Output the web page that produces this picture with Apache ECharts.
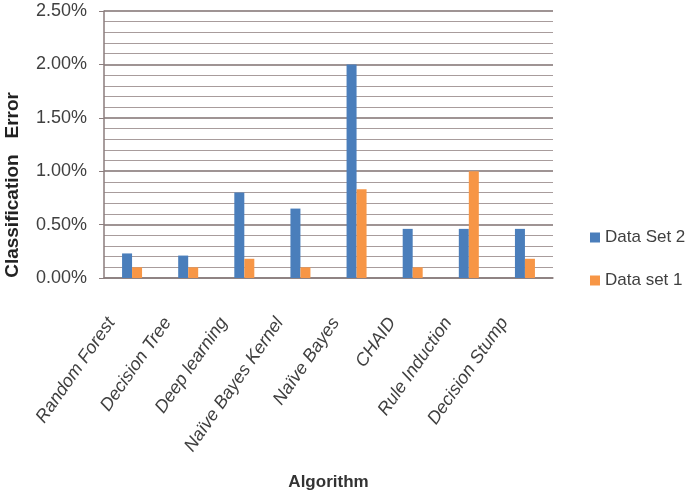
<!DOCTYPE html>
<html><head><meta charset="utf-8">
<script src="https://cdn.jsdelivr.net/npm/echarts@6/dist/echarts.min.js"></script>
<style>html,body{margin:0;padding:0;background:#fff}#c{width:685px;height:496px}</style>
</head><body><div id="c"></div>
<script>
const categories = ['Random Forest','Decision Tree','Deep learning','Naïve Bayes Kernel','Naïve Bayes','CHAID','Rule Induction','Decision Stump'];
const dataSet2 = [0.23, 0.21, 0.80, 0.65, 2.00, 0.46, 0.46, 0.46];
const dataSet1 = [0.10, 0.10, 0.18, 0.10, 0.83, 0.10, 1.00, 0.18];
const yTicks = [0, 0.5, 1.0, 1.5, 2.0, 2.5];

const chart = echarts.init(document.getElementById('c'));
chart.setOption({
  animation: false,
  grid: {left: 104, right: 132, top: 11, bottom: 213, containLabel: false},
  legend: {
    orient: 'vertical', left: 585, top: 224, itemGap: 26,
    itemWidth: 10, itemHeight: 10, icon: 'rect',
    textStyle: {fontFamily: 'Liberation Sans', fontSize: 17, color: '#404040'},
    data: ['Data Set 2', 'Data set 1']
  },
  graphic: [{
    type: 'text', left: 3, top: 92, rotation: Math.PI/2,
    style: {text: 'Classification   Error', font: 'bold 19px "Liberation Sans"', fill: '#222'}
  }],
  xAxis: {
    type: 'category', data: categories,
    name: 'Algorithm', nameLocation: 'middle', nameGap: 196,
    nameTextStyle: {fontFamily: 'Liberation Sans', fontWeight: 'bold', fontSize: 17, color: '#333'},
    axisLine: {lineStyle: {color: '#8b7d7d', width: 1.5}},
    axisTick: {show: false},
    axisLabel: {interval: 0, rotate: 55, margin: 12, padding: [0, 36, 0, 0], fontStyle: 'italic', fontSize: 18, fontFamily: 'Liberation Sans', color: '#404040'}
  },
  yAxis: {
    type: 'value', min: 0, max: 2.5, interval: 0.5,
    axisLine: {show: true, lineStyle: {color: '#8b7d7d', width: 1.5}},
    axisTick: {show: true, length: 5, lineStyle: {color: '#8b7d7d'}},
    axisLabel: {margin: 17, fontSize: 18, fontFamily: 'Liberation Sans', color: '#404040',
      formatter: v => yTicks.includes(v) ? v.toFixed(2) + '%' : ''},
    splitLine: {lineStyle: {color: '#7f7070', width: 1.5}},
    minorTick: {show: false, splitNumber: 5},
    minorSplitLine: {show: true, lineStyle: {color: '#a89c9c', width: 1.2}}
  },
  series: [
    {name: 'Data Set 2', type: 'bar', data: dataSet2, barWidth: 10, barGap: '0%',
     itemStyle: {color: '#4a7ebb'}},
    {name: 'Data set 1', type: 'bar', data: dataSet1, barWidth: 10,
     itemStyle: {color: '#f79646'}}
  ]
});
</script></body></html>
